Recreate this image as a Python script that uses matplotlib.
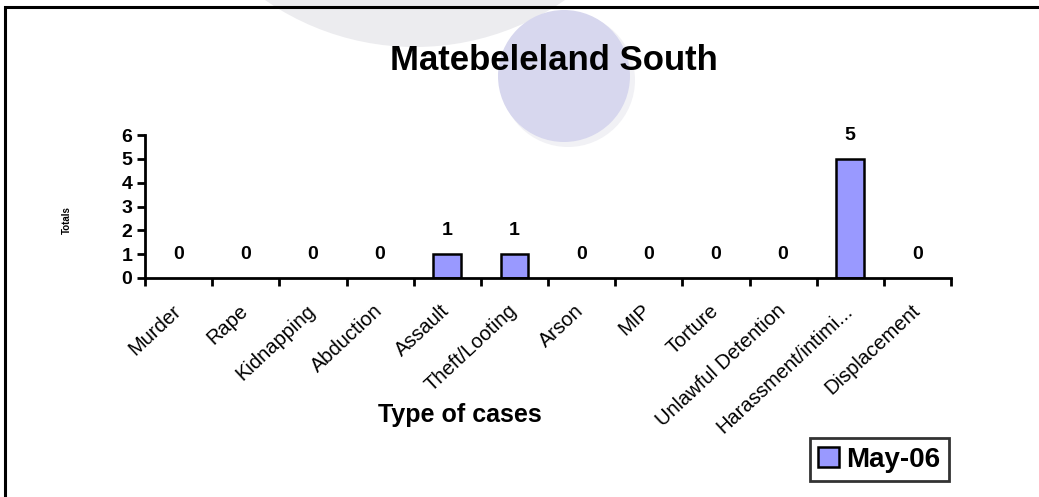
import matplotlib
matplotlib.use('Agg')
import matplotlib.pyplot as plt
import matplotlib.transforms as mtransforms
from matplotlib.patches import Ellipse, Rectangle, Patch
from matplotlib.ticker import FixedLocator, NullFormatter

plt.rcParams['font.family'] = ['Liberation Sans', 'DejaVu Sans']

# data
categorias = ['Murder', 'Rape', 'Kidnapping', 'Abduction', 'Assault', 'Theft/Looting',
              'Arson', 'MIP', 'Torture', 'Unlawful Detention', 'Harassment/intimi...',
              'Displacement']
totais = [0, 0, 0, 0, 1, 1, 0, 0, 0, 0, 5, 0]
serie = 'May-06'
y_ticks = [0, 1, 2, 3, 4, 5, 6]

W, H = 1039, 497
fig = plt.figure(figsize=(W / 100, H / 100), dpi=100)

# circulos decorativos atras do grafico
fig.patches.append(Ellipse((415 / W, 1 + 216 / H), 526 / W, 526 / H,
                           transform=fig.transFigure, facecolor='#ececef',
                           edgecolor='none', zorder=0))
fig.patches.append(Ellipse((568 / W, 1 - 80 / H), 134 / W, 134 / H,
                           transform=fig.transFigure, facecolor='#f1f1f5',
                           edgecolor='none', zorder=0))
fig.patches.append(Ellipse((564 / W, 1 - 76 / H), 132 / W, 132 / H,
                           transform=fig.transFigure, facecolor='#d7d7ee',
                           edgecolor='none', zorder=0))

# moldura (so topo e lado esquerdo visiveis)
fig.patches.append(Rectangle((5 / W, -0.1), 1.2, 1 - 7 / H + 0.1,
                             transform=fig.transFigure, fill=False,
                             edgecolor='black', linewidth=2.2, zorder=1))

ax = fig.add_axes([145 / W, 1 - 278 / H, (951 - 145) / W, (278 - 135) / H])
ax.set_facecolor('none')

x = list(range(len(categorias)))
larguras = [0 if v == 0 else 1.8 for v in totais]
ax.bar(x, totais, width=0.41, color='#9999ff', edgecolor='black',
       linewidth=larguras, zorder=3)

for xi, v in zip(x, totais):
    ax.annotate(str(v), (xi, v), xytext=(0, 17), textcoords='offset points',
                ha='center', va='center', fontsize=14, fontweight='bold')

ax.set_xlim(-0.5, len(categorias) - 0.5)
ax.set_ylim(0, 6)
ax.set_yticks(y_ticks)
ax.set_yticklabels([str(t) for t in y_ticks], fontsize=14, fontweight='bold')

# rotulos das categorias (texto girado, canto superior direito perto do centro)
ax.set_xticks(x)
ax.set_xticklabels([])
ax.tick_params(axis='x', which='major', length=0)
desloca = mtransforms.ScaledTranslation(-7 / 100, -23 / 100, fig.dpi_scale_trans)
trans = ax.get_xaxis_transform() + desloca
for xi, nome in zip(x, categorias):
    ax.text(xi, 0, nome, transform=trans, rotation=43, ha='right', va='top',
            rotation_mode='anchor', fontsize=14.5, clip_on=False)

ax.xaxis.set_minor_locator(FixedLocator([i - 0.5 for i in range(len(categorias) + 1)]))
ax.xaxis.set_minor_formatter(NullFormatter())
ax.tick_params(axis='x', which='minor', length=6, width=2, direction='out')
ax.tick_params(axis='y', length=6, width=2, direction='out', pad=3)

for s in ['top', 'right']:
    ax.spines[s].set_visible(False)
for s in ['left', 'bottom']:
    ax.spines[s].set_linewidth(2)
ax.spines['bottom'].set_zorder(4)

fig.text(554 / W, 1 - 60 / H, 'Matebeleland South', ha='center', va='center',
         fontsize=25, fontweight='bold')
fig.text(460 / W, 1 - 415 / H, 'Type of cases', ha='center', va='center',
         fontsize=18, fontweight='bold')
fig.text(67 / W, 1 - 220 / H, 'Totals', ha='center', va='center',
         rotation=90, fontsize=7, fontweight='bold')

handle = Patch(facecolor='#9999ff', edgecolor='black', linewidth=1.8)
leg = fig.legend([handle], [serie], loc='lower left',
                 bbox_to_anchor=(810 / W, 1 - 481 / H),
                 prop={'size': 20, 'weight': 'bold'}, frameon=True, fancybox=False,
                 handlelength=0.75, handleheight=0.75, handletextpad=0.25,
                 borderpad=0.3, borderaxespad=0)
leg.get_frame().set_edgecolor('black')
leg.get_frame().set_linewidth(2)

fig.savefig('out.png', dpi=100)
